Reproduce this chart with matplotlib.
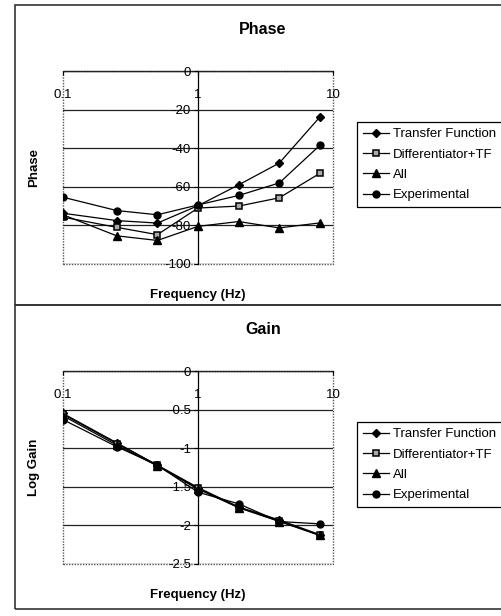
import numpy as np
import matplotlib.pyplot as plt
from matplotlib.patches import Rectangle
from matplotlib.lines import Line2D

plt.rcParams['font.family'] = ['Liberation Sans', 'DejaVu Sans']
plt.rcParams['axes.unicode_minus'] = False

freq = [0.1, 0.25, 0.5, 1, 2, 4, 8]
names = ['Transfer Function', 'Differentiator+TF', 'All', 'Experimental']

# phase (deg)
phaseTF = [-73.7, -77.5, -78.8, -69.8, -59, -47.7, -23.8]
phaseDiff = [-75.7, -81, -84.8, -71, -70, -65.7, -53]
phaseAll = [-74.5, -85.4, -87.8, -80.5, -78, -81.3, -78.7]
phaseExp = [-65.4, -72.3, -74.5, -69.4, -64.5, -58, -38.5]

# log gain
gainTF = [-0.55, -0.93, -1.22, -1.51, -1.76, -1.93, -2.12]
gainDiff = [-0.56, -0.94, -1.22, -1.52, -1.77, -1.94, -2.13]
gainAll = [-0.58, -0.96, -1.23, -1.53, -1.77, -1.95, -2.13]
gainExp = [-0.63, -0.98, -1.22, -1.57, -1.72, -1.95, -1.98]

phaseTicks = [0, -20, -40, -60, -80, -100]
gainTicks = [0, -0.5, -1, -1.5, -2, -2.5]

W, H = 502, 616
fig = plt.figure(figsize=(W / 100, H / 100), dpi=100)

def px(x0, y0, x1, y1):
    # pixel box -> figure fraction
    return [x0 / W, 1 - y1 / H, (x1 - x0) / W, (y1 - y0) / H]

# outer frames
for (y0, y1) in [(5, 305), (305, 609)]:
    fig.patches.append(Rectangle((15 / W, 1 - y1 / H), (W + 5 - 15) / W, (y1 - y0) / H,
                                 transform=fig.transFigure, fill=False,
                                 edgecolor='#333333', linewidth=1.2))

styles = [dict(marker='D', markersize=4, markerfacecolor='black'),
          dict(marker='s', markersize=4.5, markerfacecolor='#aaaaaa', markeredgewidth=1.1),
          dict(marker='^', markersize=5.5, markerfacecolor='black'),
          dict(marker='o', markersize=5, markerfacecolor='black')]


def panel(top, data, ticks, ylab, title, fmt):
    y0 = top + 66
    ax = fig.add_axes(px(63, y0, 333, y0 + 193))
    for vals, st, nm in zip(data, styles, names):
        ax.plot(freq, vals, color='black', linewidth=0.9, markeredgecolor='black', label=nm, **st)
    ax.set_xscale('log')
    ax.set_xlim(0.1, 10)
    ax.set_ylim(ticks[-1], 0)
    ax.set_yticks(ticks)
    ax.set_yticklabels([fmt(t) for t in ticks])
    ax.set_xticks([0.1, 1, 10])
    ax.set_xticklabels(['0.1', '1', '10'])
    ax.minorticks_off()
    ax.grid(axis='y', color='#222222', linewidth=0.9)
    ax.spines['bottom'].set_position(('data', 0))
    ax.spines['left'].set_position(('data', 1))
    ax.spines['top'].set_visible(False)
    ax.spines['right'].set_visible(False)
    for sp in ['bottom', 'left']:
        ax.spines[sp].set_linewidth(0.9)
        ax.spines[sp].set_zorder(1)
    ax.add_patch(Rectangle((0, 0), 1, 1, transform=ax.transAxes, fill=False,
                           edgecolor='#555555', linestyle=(0, (1, 1)), linewidth=1.0,
                           clip_on=False))
    ax.tick_params(axis='both', labelsize=9.5, length=3, width=0.8, colors='black', pad=2)
    ax.tick_params(axis='x', pad=10)
    ax.set_ylabel(ylab, fontsize=9.5, fontweight='bold')
    ax.yaxis.set_label_coords(-0.085, 0.5)
    ax.set_xlabel('Frequency (Hz)', fontsize=9.5, fontweight='bold')
    ax.xaxis.set_label_coords(0.5, -0.13)
    fig.text(263 / W, 1 - (top + 25) / H, title, fontsize=11.5, fontweight='bold',
             ha='center', va='center')
    handles = [Line2D([], [], color='black', linewidth=0.9, markeredgecolor='black', **st)
               for st in styles]
    leg = fig.legend(handles, names, loc='upper left',
                     bbox_to_anchor=(357 / W, 1 - (top + 117) / H),
                     bbox_transform=fig.transFigure, borderaxespad=0, fancybox=False,
                     edgecolor='black', framealpha=1, fontsize=9.5, handlelength=2,
                     handletextpad=0.25, labelspacing=0.62, borderpad=0.45)
    leg.get_frame().set_linewidth(0.9)
    return ax


panel(5, [phaseTF, phaseDiff, phaseAll, phaseExp], phaseTicks, 'Phase', 'Phase',
      lambda t: '%d' % t)
panel(305, [gainTF, gainDiff, gainAll, gainExp], gainTicks, 'Log Gain', 'Gain',
      lambda t: ('%g' % t))

fig.savefig('out.png', dpi=100)
